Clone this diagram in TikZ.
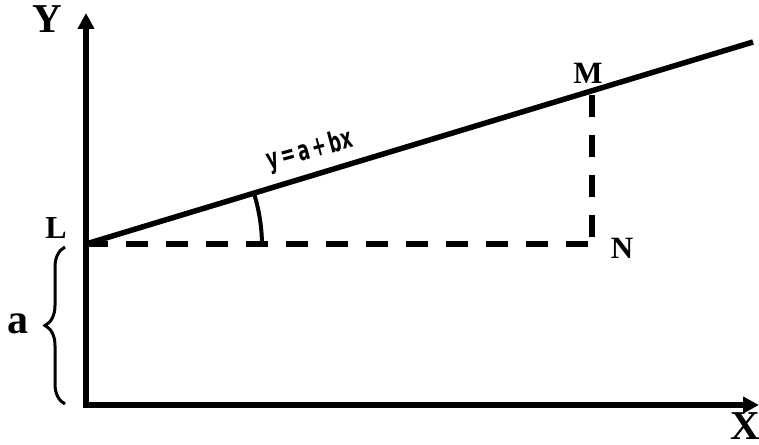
\documentclass[tikz,border=0pt]{standalone}
\usepackage{fontspec}
\setmainfont{Liberation Serif}
\newfontfamily\eqfont{DejaVu Sans}
\usetikzlibrary{arrows.meta,decorations.pathreplacing}
\begin{document}
\begin{tikzpicture}[x=1pt,y=-1pt,
  axis/.style={line width=5.5pt,-{Triangle[width=16pt,length=16pt]}},
  mainline/.style={line width=5.5pt},
  dashline/.style={line width=5.5pt,dash pattern=on 22pt off 18pt},
  lbl/.style={font=\bfseries, inner sep=0pt, anchor=base},
]
\useasboundingbox (0,0) rectangle (759,444);
\coordinate (O) at (86,405);
\coordinate (Ytip) at (86,13);
\coordinate (Xtip) at (759,405);
\coordinate (L) at (86,244);
\coordinate (E) at (753,42);
\coordinate (Mp) at (592,95);
\coordinate (Np) at (592,244);
\coordinate (Nh) at (590,244);
\coordinate (bt) at (65,247);
\coordinate (bb) at (65,404);
% axes
\draw[axis] ([yshift=2.75pt]O) -- (Ytip);
\draw[axis] ([xshift=-2.75pt]O) -- (Xtip);
% regression line
\draw[mainline] (L) -- (E);
% dashed
\draw[dashline] (L) -- (Nh);
\draw[dashline] (Mp) -- (Np);
% angle arc
\draw[line width=4pt] (262,246) arc[start angle=0,end angle=-16.9,radius=176];
% brace
\draw[line width=3pt,decorate,decoration={brace,amplitude=20pt}] (bb) -- (bt);
% labels
\node[lbl,font=\fontsize{41}{41}\selectfont\bfseries] (Ylab) at (47,33) {Y};
\node[lbl,font=\fontsize{41}{41}\selectfont\bfseries] (Xlab) at (745,439) {X};
\node[lbl,font=\fontsize{32}{32}\selectfont\bfseries] (Llab) at (56,238) {L};
\node[lbl,font=\fontsize{31}{31}\selectfont\bfseries] (Mlab) at (588,83) {M};
\node[lbl,font=\fontsize{31}{31}\selectfont\bfseries] (Nlab) at (622,258) {N};
\node[lbl,font=\fontsize{42}{42}\selectfont\bfseries] (alab) at (18,333) {a};
\node[inner sep=0pt,rotate=15,xscale=0.62,font=\eqfont\bfseries\fontsize{28}{28}\selectfont] (eq) at (310,151) {y\,=\,a\,+\,bx};
\end{tikzpicture}
\end{document}
